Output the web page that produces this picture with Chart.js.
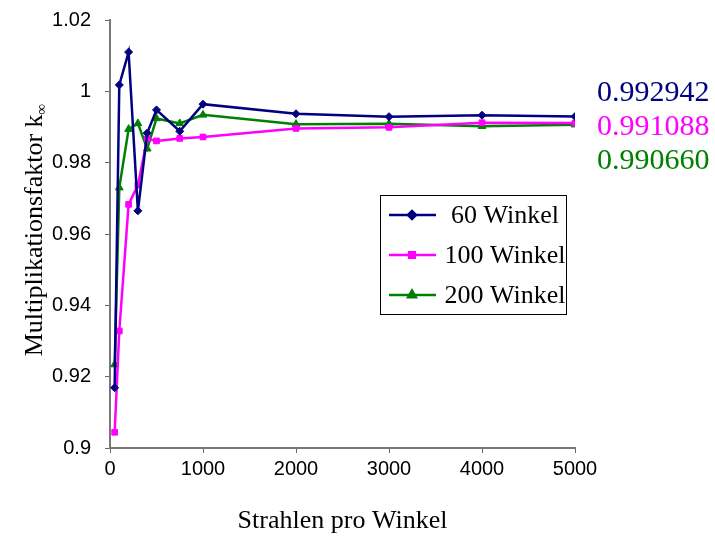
<!DOCTYPE html>
<html>
<head>
<meta charset="utf-8">
<script src="https://cdn.jsdelivr.net/npm/chart.js@4"></script>
<style>
  html, body { margin: 0; padding: 0; background: #fff; }
  #wrap { width: 715px; height: 536px; }
</style>
</head>
<body>
<div id="wrap"><canvas id="kChart" width="715" height="536"></canvas></div>
<script>
// --- data ---
const strahlen = [50, 100, 200, 300, 400, 500, 750, 1000, 2000, 3000, 4000, 5000];
const k60  = [0.9169, 1.0018, 1.0110, 0.9665, 0.9883, 0.9948, 0.9888, 0.9964, 0.9937, 0.9929, 0.9933, 0.992942];
const k100 = [0.9044, 0.9328, 0.9683, 0.9737, 0.9867, 0.9861, 0.9868, 0.9872, 0.9896, 0.9899, 0.9912, 0.991088];
const k200 = [0.9234, 0.9730, 0.9894, 0.9910, 0.9839, 0.9924, 0.9910, 0.9934, 0.9908, 0.9909, 0.9902, 0.990660];
const seriesNames = ["60 Winkel", "100 Winkel", "200 Winkel"];
const seriesColors = ["#000080", "#FF00FF", "#008000"];
const finalLabels = ["0.992942", "0.991088", "0.990660"];
const xTitle = "Strahlen pro Winkel";
const yTitle = "Multiplikationsfaktor k";
const ySub = "\u221E";

const serif = "'Liberation Serif', 'Times New Roman', serif";
const sans = "'Liberation Sans', Arial, sans-serif";

function toPoints(ys) {
  return strahlen.map((x, i) => ({ x: x, y: ys[i] }));
}

const markerStyles = ["rectRot", "rect", "triangle"];
const markerSizes = [4, 4, 4.5];

const datasets = [k60, k100, k200].map((ys, i) => ({
  label: seriesNames[i],
  data: toPoints(ys),
  borderColor: seriesColors[i],
  backgroundColor: seriesColors[i],
  borderWidth: 2.5,
  pointStyle: markerStyles[i],
  pointRadius: markerSizes[i],
  pointBorderWidth: 1,
  tension: 0,
}));

// axis titles, legend box and end values drawn by hand
const decorPlugin = {
  id: "decor",
  afterDraw(chart) {
    const ctx = chart.ctx;
    const area = chart.chartArea;
    ctx.save();

    // x title
    ctx.fillStyle = "#000";
    ctx.font = "26px " + serif;
    ctx.textAlign = "center";
    ctx.textBaseline = "middle";
    ctx.fillText(xTitle, (area.left + area.right) / 2, 521);

    // y title with subscript
    ctx.save();
    ctx.translate(33, (area.top + area.bottom) / 2 - 4);
    ctx.rotate(-Math.PI / 2);
    ctx.font = "26px " + serif;
    const wMain = ctx.measureText(yTitle).width;
    ctx.font = "15px " + serif;
    const wSub = ctx.measureText(ySub).width;
    const start = -(wMain + wSub) / 2;
    ctx.textAlign = "left";
    ctx.textBaseline = "alphabetic";
    ctx.font = "26px " + serif;
    ctx.fillText(yTitle, start, 9);
    ctx.font = "15px " + serif;
    ctx.fillText(ySub, start + wMain, 13);
    ctx.restore();

    // legend box
    const box = { left: 380.5, top: 195.5, right: 566.5, bottom: 314.5 };
    ctx.fillStyle = "#fff";
    ctx.fillRect(box.left, box.top, box.right - box.left, box.bottom - box.top);
    ctx.strokeStyle = "#000";
    ctx.lineWidth = 1;
    ctx.strokeRect(box.left, box.top, box.right - box.left, box.bottom - box.top);
    chart.data.datasets.forEach((ds, i) => {
      const y = 215 + i * 40;
      ctx.strokeStyle = ds.borderColor;
      ctx.lineWidth = 2.5;
      ctx.beginPath();
      ctx.moveTo(389, y);
      ctx.lineTo(436, y);
      ctx.stroke();
      Chart.helpers.drawPoint(ctx, {
        pointStyle: ds.pointStyle,
        radius: ds.pointRadius,
        rotation: 0,
        borderWidth: 1,
      }, 412, y);
      ctx.fillStyle = ds.borderColor;
      ctx.fill();
      ctx.fillStyle = "#000";
      ctx.font = "26px " + serif;
      ctx.textAlign = "center";
      ctx.textBaseline = "middle";
      ctx.fillText(ds.label, 505, y + 1);
    });

    // final values on the right
    ctx.font = "30px " + serif;
    ctx.textAlign = "left";
    ctx.textBaseline = "middle";
    finalLabels.forEach((t, i) => {
      ctx.fillStyle = seriesColors[i];
      ctx.fillText(t, 597, 93 + i * 34);
    });

    ctx.restore();
  },
};

new Chart(document.getElementById("kChart"), {
  type: "line",
  data: { datasets: datasets },
  options: {
    responsive: false,
    animation: false,
    layout: { padding: { top: 20, right: 140, left: 0, bottom: 0 } },
    plugins: {
      legend: { display: false },
      tooltip: { enabled: false },
    },
    scales: {
      x: {
        type: "linear",
        min: 0,
        max: 5000,
        afterFit: (scale) => {
          scale.height = 88;
          scale.paddingLeft = 0;
          scale.paddingRight = 0;
        },
        ticks: {
          stepSize: 1000,
          color: "#000",
          font: { family: sans, size: 20 },
          padding: 4,
          maxRotation: 0,
          callback: (v) => String(v),
        },
        grid: {
          drawOnChartArea: false,
          color: "#666",
          tickLength: 5,
        },
        border: { color: "#777", width: 2 },
      },
      y: {
        min: 0.9,
        max: 1.02,
        afterFit: (scale) => {
          scale.width = 110;
          scale.paddingTop = 0;
          scale.paddingBottom = 0;
        },
        ticks: {
          stepSize: 0.02,
          color: "#000",
          font: { family: sans, size: 20 },
          padding: 14,
          callback: (v) => String(parseFloat(v.toFixed(2))),
        },
        grid: {
          drawOnChartArea: false,
          color: "#666",
          tickLength: 5,
        },
        border: { color: "#777", width: 2 },
      },
    },
  },
  plugins: [decorPlugin],
});
</script>
</body>
</html>
